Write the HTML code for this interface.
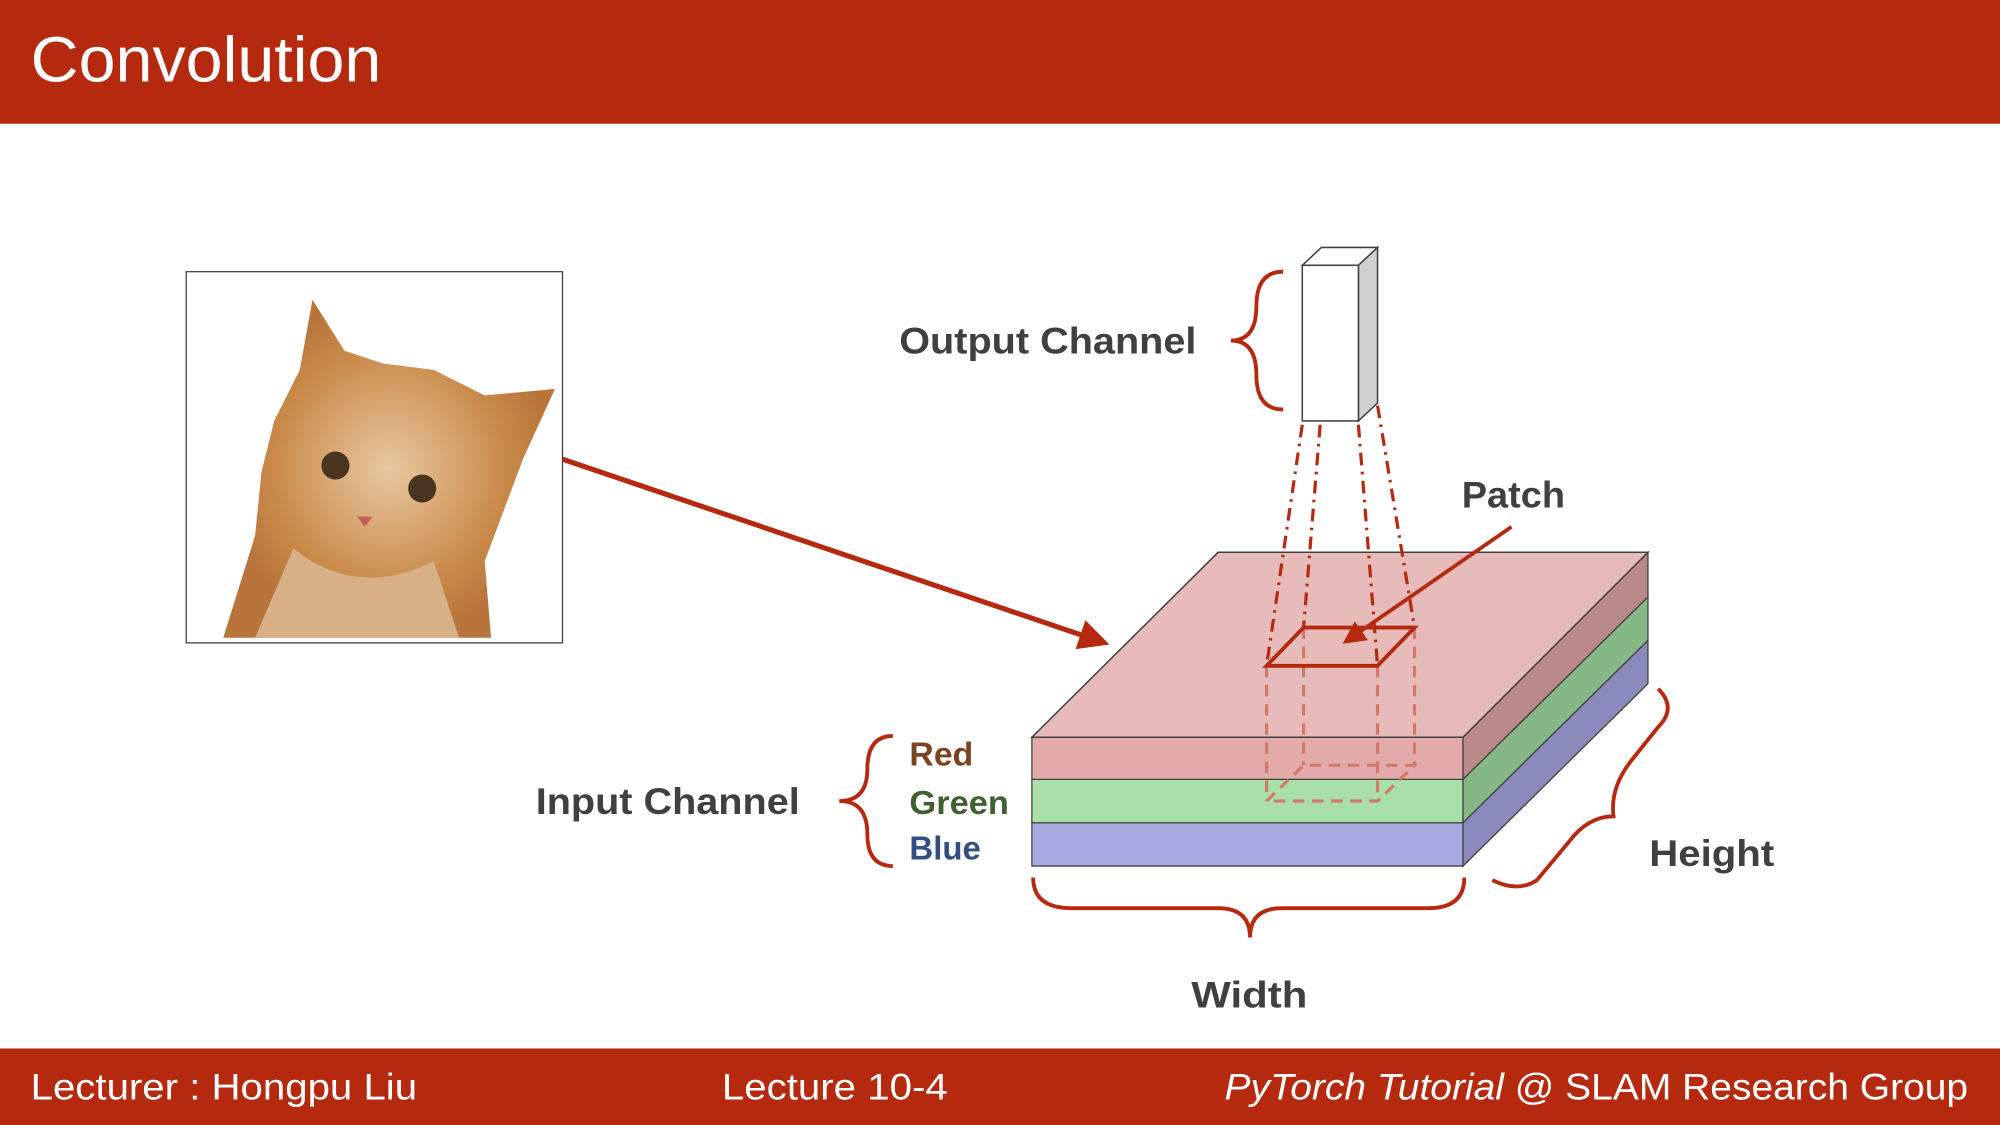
<!DOCTYPE html>
<html><head><meta charset="utf-8"><style>
html,body{margin:0;padding:0;background:#fff;}
svg{display:block;}
text{font-family:"Liberation Sans",sans-serif;}
</style></head><body>
<svg width="2000" height="1125" viewBox="0 0 1568 882" xmlns="http://www.w3.org/2000/svg">
<defs>
<marker id="ah" markerWidth="6" markerHeight="6" refX="5" refY="3" orient="auto" markerUnits="strokeWidth">
<path d="M0,0 L6,3 L0,6 z" fill="#B5290F"/></marker>
<radialGradient id="cg" cx="0.5" cy="0.5" r="0.5"><stop offset="0" stop-color="#e8c8a0"/><stop offset="0.7" stop-color="#c98a4a"/><stop offset="1" stop-color="#b8743a"/></radialGradient>
</defs>
<rect x="0" y="0" width="1568" height="97" fill="#B5290F"/>
<text x="24" y="64" font-size="50" fill="#fff" textLength="275" lengthAdjust="spacingAndGlyphs">Convolution</text>
<rect x="0" y="822" width="1568" height="60" fill="#B5290F"/>
<text x="24" y="862" font-size="29" fill="#fff" textLength="303" lengthAdjust="spacingAndGlyphs">Lecturer : Hongpu Liu</text>
<text x="566" y="862" font-size="29" fill="#fff" textLength="177" lengthAdjust="spacingAndGlyphs">Lecture 10-4</text>
<text x="960" y="862" font-size="29" fill="#fff" textLength="583" lengthAdjust="spacingAndGlyphs"><tspan font-style="italic">PyTorch Tutorial</tspan> @ SLAM Research Group</text>

<!-- cat -->
<rect x="146" y="213" width="295" height="291" fill="#fff" stroke="#404040" stroke-width="1"/>
<path d="M175,500 L200,420 L205,370 L215,330 L235,290 L245,235 L270,275 L300,285 L340,290 L380,310 L435,305 L410,360 L395,400 L380,440 L385,500 Z" fill="url(#cg)"/>
<path d="M230,430 Q280,470 340,440 L360,500 L200,500 Z" fill="#d8b088"/>
<circle cx="263" cy="365" r="11" fill="#4a3520"/><circle cx="331" cy="383" r="11" fill="#4a3520"/>
<path d="M280,405 l12,0 l-6,8 z" fill="#c06060"/>

<line x1="441" y1="360" x2="866" y2="504" stroke="#B5290F" stroke-width="4" marker-end="url(#ah)"/>

<polygon points="809,645 1147,645 1147,679 809,679" fill="#A9A9E2" stroke="#404040" stroke-width="1"/>
<polygon points="1147,645 1292,502 1292,536 1147,679" fill="#8A8ABD" stroke="#404040" stroke-width="1"/>
<polygon points="809,611 1147,611 1147,645 809,645" fill="#A9E0A9" stroke="#404040" stroke-width="1"/>
<polygon points="1147,611 1292,468 1292,502 1147,645" fill="#86B886" stroke="#404040" stroke-width="1"/>
<polygon points="809,578 1147,578 1147,611 809,611" fill="#E3AAAA" stroke="#404040" stroke-width="1"/>
<polygon points="1147,578 1292,433 1292,468 1147,611" fill="#B98888" stroke="#404040" stroke-width="1"/>
<polygon points="809,578 955,433 1292,433 1147,578" fill="#E8BBBB" stroke="#404040" stroke-width="1.2"/>

<g stroke="#D27A6A" stroke-width="2.5" stroke-dasharray="9,6" fill="none">
<line x1="993" y1="522" x2="993" y2="628"/><line x1="1080" y1="522" x2="1080" y2="628"/>
<line x1="1022" y1="492" x2="1022" y2="600"/><line x1="1109" y1="492" x2="1109" y2="600"/>
<polygon points="993,628 1022,600 1109,600 1080,628"/>
</g>
<polygon points="993,522 1022,492 1109,492 1080,522" fill="none" stroke="#B5290F" stroke-width="3"/>

<g stroke="#B5290F" stroke-width="2.5" stroke-dasharray="10,5,2,5" fill="none">
<line x1="1021" y1="333" x2="993" y2="522"/><line x1="1035" y1="333" x2="1022" y2="492"/>
<line x1="1065" y1="333" x2="1080" y2="522"/><line x1="1080" y1="318" x2="1109" y2="492"/>
</g>

<polygon points="1021,208 1036,194 1080,194 1065,208" fill="#fff" stroke="#404040" stroke-width="1.2"/>
<polygon points="1065,208 1080,194 1080,316 1065,330" fill="#D0D0D0" stroke="#404040" stroke-width="1.2"/>
<rect x="1021" y="208" width="44" height="122" fill="#fff" stroke="#404040" stroke-width="1.2"/>

<line x1="1185" y1="413" x2="1055" y2="503" stroke="#B5290F" stroke-width="3" marker-end="url(#ah)"/>

<g stroke="#B5290F" stroke-width="3" fill="none">
<path d="M1006,213 Q985,213 985,240 Q985,267 965,267 Q985,267 985,294 Q985,321 1006,321"/>
<path d="M700,577 Q680,577 680,603 Q680,628 658,628 Q680,628 680,654 Q680,679 700,679"/>
<path d="M810,688 Q810,712 840,712 L955,712 Q980,712 980,735 Q980,712 1005,712 L1120,712 Q1148,712 1148,688"/>
<path d="M1300,540 Q1315,555 1300,570 L1280,595 Q1262,617 1265,640 Q1245,640 1230,660 L1205,690 Q1190,700 1170,690"/>
</g>

<g font-weight="bold" fill="#404040" font-size="29">
<text x="705" y="277" textLength="233" lengthAdjust="spacingAndGlyphs">Output Channel</text>
<text x="1146" y="398" textLength="81" lengthAdjust="spacingAndGlyphs">Patch</text>
<text x="420" y="638" textLength="207" lengthAdjust="spacingAndGlyphs">Input Channel</text>
<text x="1293" y="679" textLength="98" lengthAdjust="spacingAndGlyphs">Height</text>
<text x="934" y="790" textLength="91" lengthAdjust="spacingAndGlyphs">Width</text>
</g>
<g font-weight="bold" font-size="26">
<text x="713" y="600" fill="#7A4420" textLength="50" lengthAdjust="spacingAndGlyphs">Red</text>
<text x="713" y="638" fill="#3F6030" textLength="78" lengthAdjust="spacingAndGlyphs">Green</text>
<text x="713" y="674" fill="#2F5080" textLength="56" lengthAdjust="spacingAndGlyphs">Blue</text>
</g>
</svg>
</body></html>
